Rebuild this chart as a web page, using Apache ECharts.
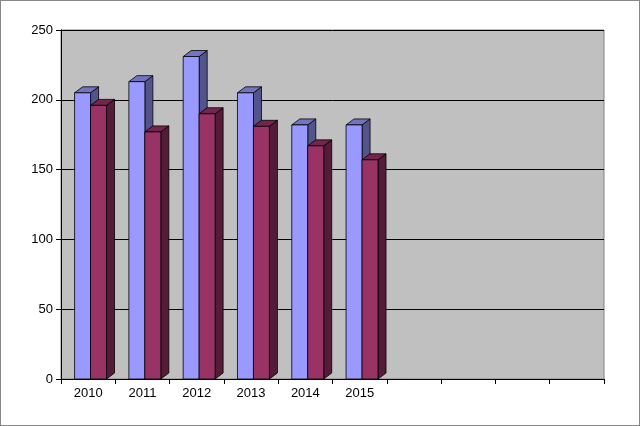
<!DOCTYPE html>
<html><head><meta charset="utf-8">
<script src="https://cdn.jsdelivr.net/npm/echarts@6/dist/echarts.min.js"></script>
<style>html,body{margin:0;padding:0;background:#fff}#c{width:640px;height:426px;box-sizing:border-box;border:1px solid #888}</style>
</head><body><div id="c"></div>
<script>
const categories = ['2010','2011','2012','2013','2014','2015','','','',''];
const seriesA = [205,213,231,205,182,182,null,null,null,null];
const seriesB = [196,177,190,181,167,157,null,null,null,null];
const yTicks = [0,50,100,150,200,250];

const DX = 8, DY = 6, BW = 16;
function shade(c, f){const n=parseInt(c.slice(1),16);let r=n>>16,g=(n>>8)&255,b=n&255;r=Math.round(r*f);g=Math.round(g*f);b=Math.round(b*f);return 'rgb('+r+','+g+','+b+')';}
function bar3d(color, off){
  return function(params, api){
    const v = api.value(1);
    if (v == null || isNaN(v)) return;
    const base = api.coord([api.value(0), 0]);
    const top = api.coord([api.value(0), v]);
    const bw = api.size([1,0])[0];
    const x0 = base[0] - bw/2 + bw*off;
    const x1 = x0 + BW, y0 = top[1], y1 = base[1];
    const st = {stroke:'#000', lineWidth:0.8};
    return {type:'group', children:[
      {type:'polygon', shape:{points:[[x1,y0],[x1+DX,y0-DY],[x1+DX,y1-DY],[x1,y1]]}, style:Object.assign({fill:shade(color,0.55)},st)},
      {type:'polygon', shape:{points:[[x0,y0],[x0+DX,y0-DY],[x1+DX,y0-DY],[x1,y0]]}, style:Object.assign({fill:shade(color,0.75)},st)},
      {type:'rect', shape:{x:x0,y:y0,width:BW,height:y1-y0}, style:Object.assign({fill:color},st)}
    ]};
  };
}
const chart = echarts.init(document.getElementById('c'));
chart.setOption({
  animation:false,
  grid:{left:60,right:35,top:29,bottom:46,show:true,backgroundColor:'#c0c0c0',borderColor:'#808080',borderWidth:1},
  xAxis:{type:'category',data:categories,boundaryGap:true,
    axisLine:{lineStyle:{color:'#000'}},axisTick:{show:true,alignWithLabel:false,lineStyle:{color:'#000'}},
    axisLabel:{color:'#000',fontFamily:'Liberation Sans',fontSize:13,interval:0}},
  yAxis:{type:'value',min:0,max:250,interval:50,
    axisLine:{show:true,lineStyle:{color:'#000'}},axisTick:{show:true,lineStyle:{color:'#000'}},
    axisLabel:{color:'#000',fontFamily:'Liberation Sans',fontSize:13,formatter:v=>yTicks.includes(v)?String(v):''},
    splitLine:{lineStyle:{color:'#000',width:1}}},
  series:[
    {type:'custom',renderItem:bar3d('#9999ff',0.25),data:categories.map((c,i)=>[i,seriesA[i]]),encode:{x:0,y:1}},
    {type:'custom',renderItem:bar3d('#993366',0.25+16/54.5),data:categories.map((c,i)=>[i,seriesB[i]]),encode:{x:0,y:1}}
  ]
});
</script></body></html>
